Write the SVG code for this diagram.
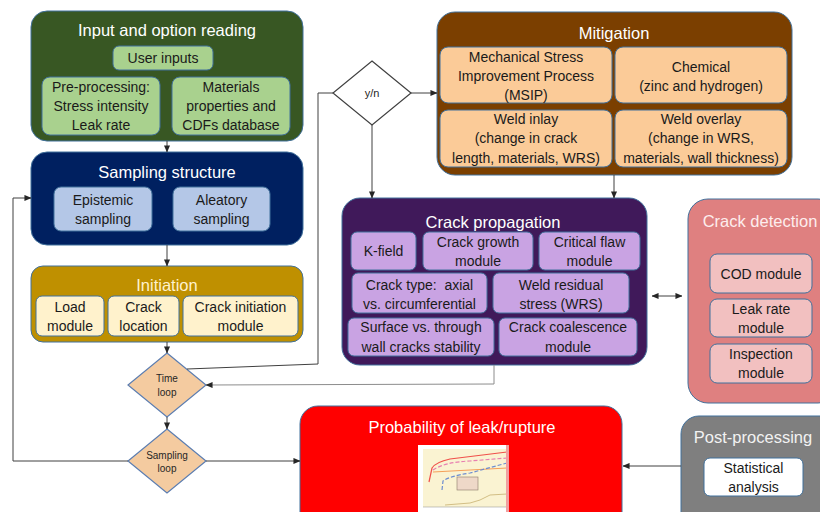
<svg xmlns="http://www.w3.org/2000/svg" width="820" height="512" viewBox="0 0 820 512">
<defs>
<marker id="ah" viewBox="0 0 8 8" refX="7.5" refY="4" markerWidth="7" markerHeight="7" markerUnits="userSpaceOnUse" orient="auto-start-reverse">
<path d="M0,0.5 L8,4 L0,7.5 Z" fill="#262626"/>
</marker>
<style>
text{font-family:"Liberation Sans",Arial,sans-serif;text-anchor:middle}
.title{font-size:16.5px;fill:#ffffff}
.sub{font-size:14px;fill:#1a1a1a}
.small{font-size:10px;fill:#262626}
.outer{stroke:#41719C;stroke-width:1}
.inner{stroke:#41719C;stroke-width:1}
.conn{fill:none;stroke:#404040;stroke-width:1}
</style>
</defs>
<rect width="820" height="512" fill="#ffffff"/>

<g id="input">
<rect class="outer" x="31" y="11" width="272" height="130" rx="16" fill="#385723"/>
<text class="title" x="167" y="36">Input and option reading</text>
<rect class="inner" x="113" y="46" width="100" height="24" rx="6" fill="#A9D18E"/>
<text class="sub" x="163" y="63">User inputs</text>
<rect class="inner" x="42" y="77" width="118" height="58" rx="8" fill="#A9D18E"/>
<text class="sub" x="101" y="92">Pre-processing:</text>
<text class="sub" x="101" y="111">Stress intensity</text>
<text class="sub" x="101" y="130">Leak rate</text>
<rect class="inner" x="172" y="77" width="118" height="58" rx="8" fill="#A9D18E"/>
<text class="sub" x="231" y="92">Materials</text>
<text class="sub" x="231" y="111">properties and</text>
<text class="sub" x="231" y="130">CDFs database</text>
</g>

<g id="sampling">
<rect class="outer" x="31" y="152" width="272" height="93" rx="16" fill="#002060"/>
<text class="title" x="167" y="178">Sampling structure</text>
<rect class="inner" x="54" y="187" width="98" height="44" rx="7" fill="#B4C7E7"/>
<text class="sub" x="103" y="204.5">Epistemic</text>
<text class="sub" x="103" y="223.5">sampling</text>
<rect class="inner" x="173" y="187" width="97" height="44" rx="7" fill="#B4C7E7"/>
<text class="sub" x="221.5" y="204.5">Aleatory</text>
<text class="sub" x="221.5" y="223.5">sampling</text>
</g>

<g id="initiation">
<rect class="outer" x="31" y="266" width="272" height="76" rx="12" fill="#BF9000"/>
<text class="title" x="167" y="291" style="fill:#FFF2CC">Initiation</text>
<rect class="inner" x="36" y="296" width="68" height="40" rx="6" fill="#FFF2CC"/>
<text class="sub" x="70" y="311.5">Load</text>
<text class="sub" x="70" y="330.5">module</text>
<rect class="inner" x="108" y="296" width="71" height="40" rx="6" fill="#FFF2CC"/>
<text class="sub" x="143.5" y="311.5">Crack</text>
<text class="sub" x="143.5" y="330.5">location</text>
<rect class="inner" x="183" y="296" width="115" height="40" rx="6" fill="#FFF2CC"/>
<text class="sub" x="240.5" y="311.5">Crack initiation</text>
<text class="sub" x="240.5" y="330.5">module</text>
</g>

<g id="time-loop">
<polygon points="167,353 206,385 167,417 128,385" fill="#F4CBA0" stroke="#5B7DB1" stroke-width="1.2"/>
<text class="small" x="167" y="381.5">Time</text>
<text class="small" x="167" y="395.5">loop</text>
</g>

<g id="sampling-loop">
<polygon points="167,429 206,461 167,493 128,461" fill="#F4CBA0" stroke="#5B7DB1" stroke-width="1.2"/>
<text class="small" x="167" y="458.5">Sampling</text>
<text class="small" x="167" y="472">loop</text>
</g>

<g id="yn">
<polygon points="372,61 411,93 372,125 333,93" fill="#ffffff" stroke="#404040" stroke-width="1.2"/>
<text class="small" x="372" y="97" style="font-size:11px">y/n</text>
</g>

<g id="mitigation">
<rect class="outer" x="437" y="12" width="355" height="163" rx="18" fill="#7B3F00"/>
<text class="title" x="614" y="39">Mitigation</text>
<rect class="inner" x="440" y="47" width="172" height="56" rx="8" fill="#FBCB98"/>
<text class="sub" x="526" y="61.5">Mechanical Stress</text>
<text class="sub" x="526" y="80.5">Improvement Process</text>
<text class="sub" x="526" y="99.5">(MSIP)</text>
<rect class="inner" x="615" y="47" width="172" height="56" rx="8" fill="#FBCB98"/>
<text class="sub" x="701" y="72">Chemical</text>
<text class="sub" x="701" y="91">(zinc and hydrogen)</text>
<rect class="inner" x="440" y="110" width="172" height="57" rx="8" fill="#FBCB98"/>
<text class="sub" x="526" y="123.5">Weld inlay</text>
<text class="sub" x="526" y="143">(change in crack</text>
<text class="sub" x="526" y="162.5">length, materials, WRS)</text>
<rect class="inner" x="615" y="110" width="172" height="57" rx="8" fill="#FBCB98"/>
<text class="sub" x="701" y="123.5">Weld overlay</text>
<text class="sub" x="701" y="143">(change in WRS,</text>
<text class="sub" x="701" y="162.5">materials, wall thickness)</text>
</g>

<g id="crack-propagation">
<rect class="outer" x="342" y="198" width="305" height="167" rx="18" fill="#40195A"/>
<text class="title" x="493" y="228">Crack propagation</text>
<rect class="inner" x="351" y="232" width="65" height="38" rx="6" fill="#C9A3E3"/>
<text class="sub" x="383.5" y="256">K-field</text>
<rect class="inner" x="423" y="232" width="110" height="38" rx="6" fill="#C9A3E3"/>
<text class="sub" x="478" y="247">Crack growth</text>
<text class="sub" x="478" y="266">module</text>
<rect class="inner" x="539" y="232" width="101" height="38" rx="6" fill="#C9A3E3"/>
<text class="sub" x="589.5" y="247">Critical flaw</text>
<text class="sub" x="589.5" y="266">module</text>
<rect class="inner" x="352" y="273" width="135" height="40" rx="6" fill="#C9A3E3"/>
<text class="sub" x="419.5" y="290" xml:space="preserve">Crack type:  axial</text>
<text class="sub" x="419.5" y="308.5">vs. circumferential</text>
<rect class="inner" x="493" y="273" width="136" height="40" rx="6" fill="#C9A3E3"/>
<text class="sub" x="561" y="290">Weld residual</text>
<text class="sub" x="561" y="308.5">stress (WRS)</text>
<rect class="inner" x="348" y="318" width="146" height="38" rx="6" fill="#C9A3E3"/>
<text class="sub" x="421" y="332">Surface vs. through</text>
<text class="sub" x="421" y="351.5">wall cracks stability</text>
<rect class="inner" x="499" y="318" width="138" height="38" rx="6" fill="#C9A3E3"/>
<text class="sub" x="568" y="332">Crack coalescence</text>
<text class="sub" x="568" y="351.5">module</text>
</g>

<g id="crack-detection">
<rect class="outer" x="688" y="199" width="150" height="204" rx="20" fill="#DF8080"/>
<text class="title" x="760" y="227" style="fill:#FDEDED">Crack detection</text>
<rect class="inner" x="710" y="254" width="102" height="39" rx="7" fill="#F2C0C0"/>
<text class="sub" x="761" y="278.5">COD module</text>
<rect class="inner" x="710" y="299" width="102" height="38" rx="7" fill="#F2C0C0"/>
<text class="sub" x="761" y="314">Leak rate</text>
<text class="sub" x="761" y="333">module</text>
<rect class="inner" x="710" y="344" width="102" height="39" rx="7" fill="#F2C0C0"/>
<text class="sub" x="761" y="359">Inspection</text>
<text class="sub" x="761" y="378">module</text>
</g>

<g id="probability">
<rect class="outer" x="300" y="406" width="322" height="130" rx="18" fill="#FF0000"/>
<text class="title" x="462" y="433">Probability of leak/rupture</text>
<rect x="418" y="445" width="91" height="70" fill="#ffffff"/>
<rect x="423" y="449" width="84" height="58" fill="#FAF3D2"/>
<g fill="none" stroke-width="1.2">
<path d="M429,482 L432,468 Q436,462 450,459 L507,452" stroke="#F0504A"/>
<path d="M433,472 L507,468" stroke="#F5A05A"/>
<path d="M433,470 Q445,462 470,461 L507,458" stroke="#E87FB0" stroke-dasharray="4,2"/>
<path d="M442,490 L443,481 Q450,476 470,473 L507,463" stroke="#6C8CD0" stroke-dasharray="4,2"/>
<path d="M445,505 L470,503 L480,500 L490,495 L507,494" stroke="#C8B070" stroke-width="0.8"/>
</g>
<rect x="457" y="477" width="21" height="13" fill="#EED8C8" stroke="#8A7A6A" stroke-width="0.6"/>
<line x1="423" y1="507" x2="507" y2="507" stroke="#888" stroke-width="0.5"/>
<rect x="506" y="445" width="3" height="67" fill="#F0A0A0"/>
</g>

<g id="post-processing">
<rect class="outer" x="681" y="416" width="160" height="120" rx="18" fill="#7F7F7F"/>
<text class="title" x="753" y="443" style="fill:#F2F2F2">Post-processing</text>
<rect class="inner" x="704" y="458" width="99" height="38" rx="6" fill="#ffffff"/>
<text class="sub" x="753.5" y="473">Statistical</text>
<text class="sub" x="753.5" y="492">analysis</text>
</g>

<g id="connectors">
<path class="conn" d="M167,141 L167,152" marker-end="url(#ah)"/>
<path class="conn" d="M167,245 L167,266" marker-end="url(#ah)"/>
<path class="conn" d="M167,342 L167,353" marker-end="url(#ah)"/>
<path class="conn" d="M167,417 L167,429" marker-end="url(#ah)"/>
<path class="conn" d="M128,461 L13,461 L13,198 L31,198" marker-end="url(#ah)" stroke="#595959"/>
<path class="conn" d="M206,461 L300,461" marker-end="url(#ah)"/>
<path class="conn" d="M187,369 L318,364 L318,93 L333,93"/>
<path class="conn" d="M411,93 L437,93" marker-end="url(#ah)"/>
<path class="conn" d="M372,125 L372,198" marker-end="url(#ah)"/>
<path class="conn" d="M614,175 L614,198" marker-end="url(#ah)"/>
<path class="conn" d="M494,365 L494,384 L206,385" marker-end="url(#ah)" style="stroke:#8C8C8C"/>
<path class="conn" d="M652,296 L682,296" marker-start="url(#ah)" marker-end="url(#ah)"/>
<path class="conn" d="M681,466 L623,466" marker-end="url(#ah)"/>
</g>
</svg>
